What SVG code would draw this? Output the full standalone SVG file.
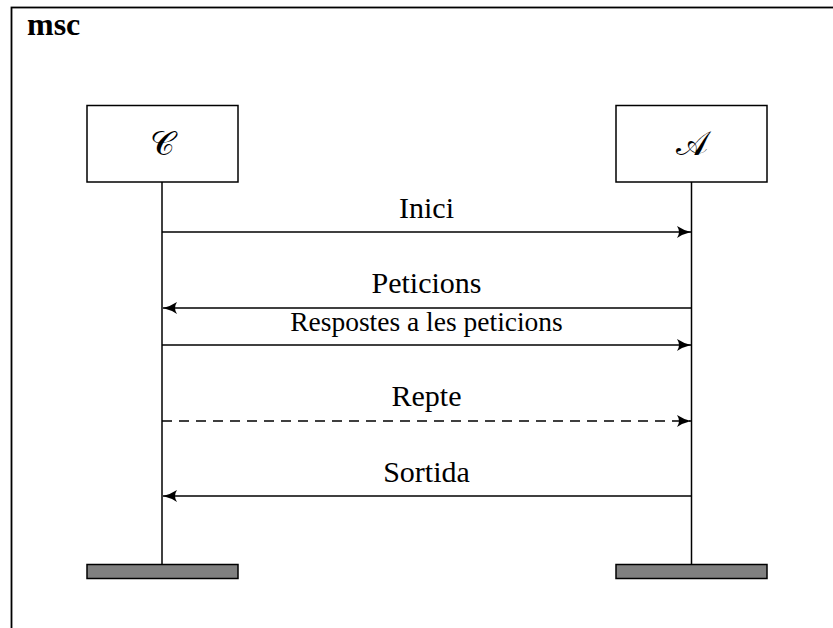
<svg xmlns="http://www.w3.org/2000/svg" width="833" height="628" viewBox="0 0 833 628">
<style>
.frame{fill:none;stroke:#000;stroke-width:1.8}
.box{fill:#fff;stroke:#000;stroke-width:1.5}
.life{stroke:#000;stroke-width:1.5}
.end{fill:#808080;stroke:#000;stroke-width:1.5}
.msg{fill:none;stroke:#000;stroke-width:1.5}
.dash{stroke-dasharray:10 7}
.lbl{font-family:"Liberation Serif","Times New Roman",serif;font-size:30px;text-anchor:middle;fill:#000}
.sm{font-size:27.5px}
.title{font-family:"Liberation Serif","Times New Roman",serif;font-size:32px;font-weight:bold;fill:#000}
.inst{font-family:"DejaVu Serif","DejaVu Sans",serif;font-size:34px;text-anchor:middle;fill:#000}
</style>
<defs>
<marker id="ah" viewBox="-15 -7 16 14" refX="0" refY="0" markerWidth="16" markerHeight="14" markerUnits="userSpaceOnUse" orient="auto">
<path d="M0,0 Q-8,-2 -14,-6 Q-10,0 -14,6 Q-8,2 0,0 Z" fill="#000"/>
</marker>
</defs>
<rect class="frame" x="11.5" y="7.5" width="900" height="700"/>
<text class="title" x="27" y="35">msc</text>
<g id="C">
<rect class="box" x="87" y="105.5" width="151" height="76.5"/>
<text class="inst" x="162" y="155">𝒞</text>
<line class="life" x1="162" y1="182" x2="162" y2="564.5"/>
<rect class="end" x="87" y="564.5" width="151" height="14"/>
</g>
<g id="A">
<rect class="box" x="616" y="105.5" width="151" height="76.5"/>
<text class="inst" x="691.5" y="155">𝒜</text>
<line class="life" x1="691.5" y1="182" x2="691.5" y2="564.5"/>
<rect class="end" x="616" y="564.5" width="151" height="14"/>
</g>
<g id="connectors">
<line class="msg" x1="162" y1="232" x2="691" y2="232" marker-end="url(#ah)"/>
<line class="msg" x1="691.5" y1="308" x2="163" y2="308" marker-end="url(#ah)"/>
<line class="msg" x1="162" y1="345" x2="691" y2="345" marker-end="url(#ah)"/>
<line class="msg dash" x1="162" y1="421" x2="691" y2="421" marker-end="url(#ah)"/>
<line class="msg" x1="691.5" y1="496" x2="163" y2="496" marker-end="url(#ah)"/>
<text class="lbl" x="426.5" y="218">Inici</text>
<text class="lbl" x="426.5" y="293">Peticions</text>
<text class="lbl sm" x="426.5" y="331">Respostes a les peticions</text>
<text class="lbl" x="426.5" y="406">Repte</text>
<text class="lbl" x="426.5" y="482">Sortida</text>
</g>
</svg>
